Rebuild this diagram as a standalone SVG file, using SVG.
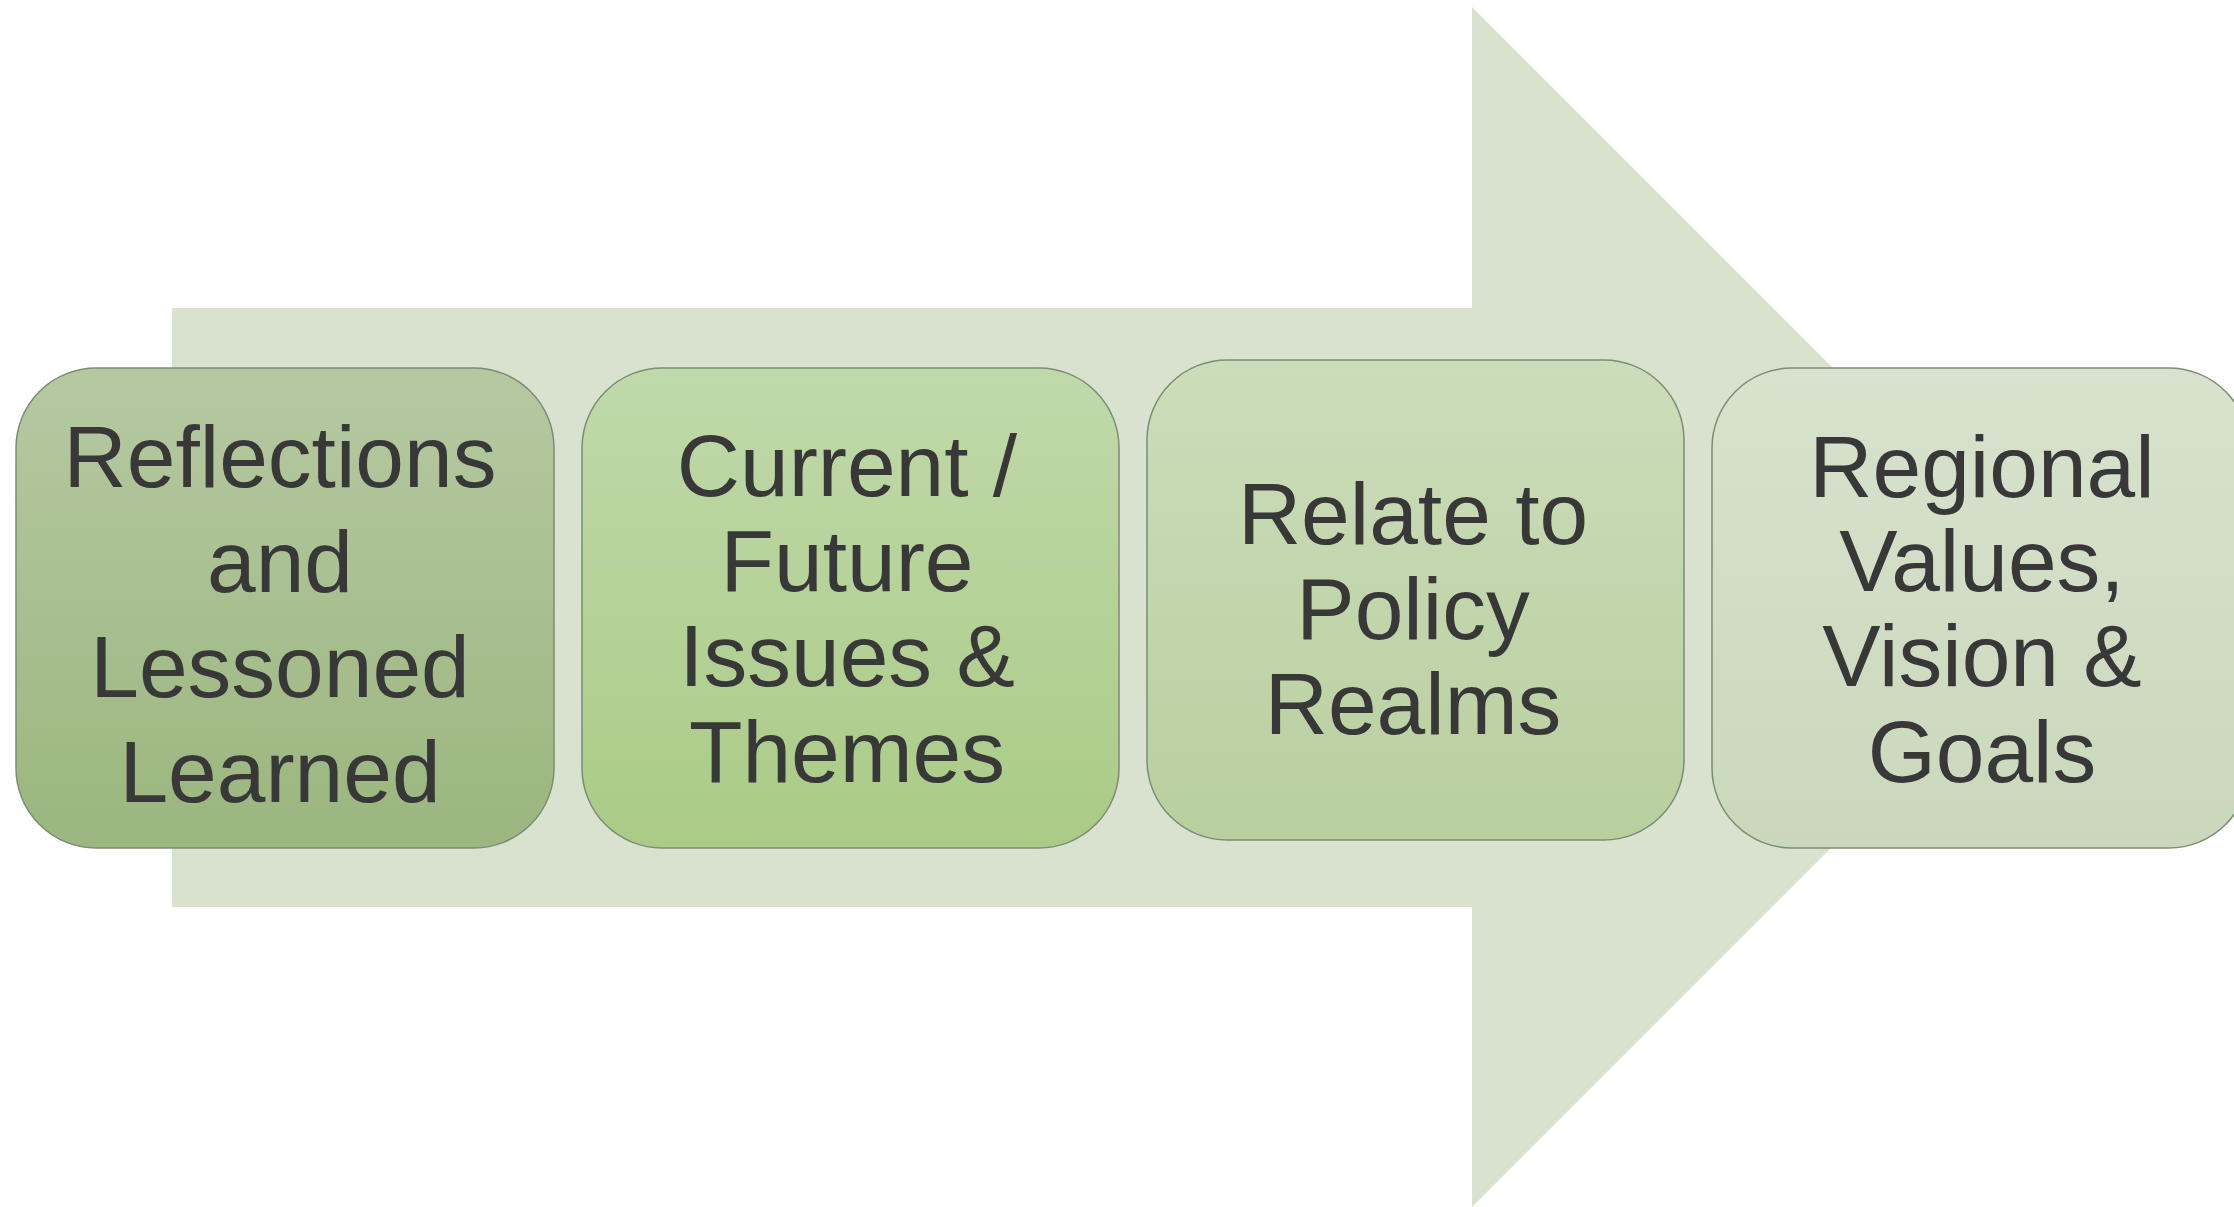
<svg xmlns="http://www.w3.org/2000/svg" width="2234" height="1207" viewBox="0 0 2234 1207">
<defs>
<linearGradient id="g1" x1="0" y1="0" x2="0" y2="1"><stop offset="0" stop-color="#b5c9a1"/><stop offset="1" stop-color="#9bb67e"/></linearGradient>
<linearGradient id="g2" x1="0" y1="0" x2="0" y2="1"><stop offset="0" stop-color="#c0d9aa"/><stop offset="1" stop-color="#aacb86"/></linearGradient>
<linearGradient id="g3" x1="0" y1="0" x2="0" y2="1"><stop offset="0" stop-color="#ccddbb"/><stop offset="1" stop-color="#b8cf9e"/></linearGradient>
<linearGradient id="g4" x1="0" y1="0" x2="0" y2="1"><stop offset="0" stop-color="#d8e2ce"/><stop offset="1" stop-color="#c9d8ba"/></linearGradient>
</defs>
<style>
.box{stroke:#7d8c74;stroke-width:1.5}
.t{font-family:"Liberation Sans",Arial,sans-serif;font-size:87.5px;fill:#383838;text-anchor:middle}
</style>
<rect width="2234" height="1207" fill="#ffffff"/>
<g id="arrow">
<polygon points="172,308 1472,308 1472,7 2072,607 1472,1207 1472,907 172,907" fill="#d8e2cf"/>
</g>
<g id="node1">
<rect class="box" x="16" y="368" width="538" height="480" rx="80" ry="80" fill="url(#g1)"/>
<text class="t"><tspan x="280" y="487">Reflections</tspan><tspan x="280" y="592">and</tspan><tspan x="280" y="697">Lessoned</tspan><tspan x="280" y="802">Learned</tspan></text>
</g>
<g id="node2">
<rect class="box" x="582" y="368" width="537" height="480" rx="80" ry="80" fill="url(#g2)"/>
<text class="t"><tspan x="847" y="496">Current /</tspan><tspan x="847" y="591">Future</tspan><tspan x="847" y="686">Issues &amp;</tspan><tspan x="847" y="782">Themes</tspan></text>
</g>
<g id="node3">
<rect class="box" x="1147" y="360" width="537" height="480" rx="80" ry="80" fill="url(#g3)"/>
<text class="t"><tspan x="1413" y="544">Relate to</tspan><tspan x="1413" y="639">Policy</tspan><tspan x="1413" y="734">Realms</tspan></text>
</g>
<g id="node4">
<rect class="box" x="1712" y="368" width="537" height="480" rx="80" ry="80" fill="url(#g4)"/>
<text class="t"><tspan x="1982" y="497">Regional</tspan><tspan x="1982" y="591">Values,</tspan><tspan x="1982" y="686">Vision &amp;</tspan><tspan x="1982" y="782">Goals</tspan></text>
</g>
<g id="connectors"></g>
</svg>
